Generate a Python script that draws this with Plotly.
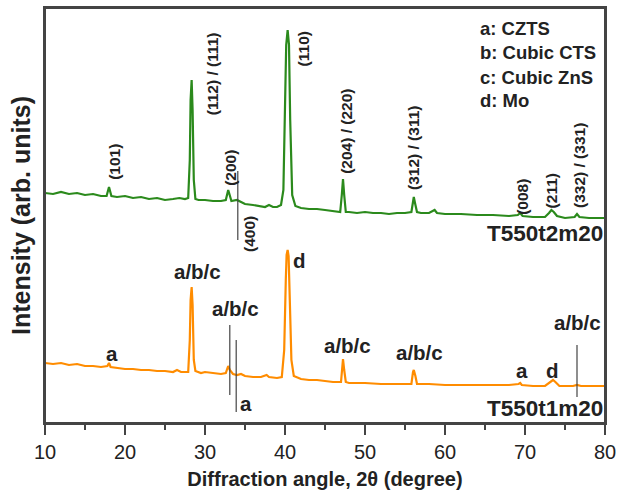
import plotly.graph_objects as go

# ---- data (2theta in degrees, intensity in arb. units) ----
green_x = [10, 11, 12, 13, 14, 15, 16, 17, 17.7, 18.0, 18.3, 19, 20, 21, 22, 23, 24, 25, 26, 26.8,
           27.5, 27.9, 28.1, 28.2, 28.33, 28.45, 28.6, 28.8, 29.2, 30, 31, 32, 32.6, 32.8, 32.9, 33.05,
           33.3, 34, 34.5, 35, 36, 37, 37.5, 38, 38.5, 39, 39.5, 39.8, 40.0, 40.15, 40.33, 40.5, 40.65,
           40.9, 41.3, 42, 43, 44, 45, 46, 46.9, 47.1, 47.25, 47.4, 47.6, 48, 49, 50, 51, 52, 53, 54, 55,
           55.8, 56.0, 56.1, 56.25, 56.5, 57, 58, 58.7, 59, 60, 62, 64, 66, 68, 69.1, 69.4, 69.7, 71,
           72.5, 73, 73.3, 73.6, 74, 75, 76.2, 76.5, 76.8, 78, 80]
green_y = [230, 229, 231, 229, 230, 228, 229, 227, 227, 236, 227, 226, 227, 225, 226, 224, 225, 223, 224, 225,
           224, 225, 263, 323, 343, 313, 243, 224, 223, 223, 222, 222, 223, 231, 233, 229,
           222, 223, 221, 219, 218, 217, 216, 218, 216, 216, 218, 233, 313, 378, 393, 378, 303,
           228, 217, 215, 214, 214, 213, 212, 211, 228, 244, 228, 211, 211, 210, 211, 210, 210, 209, 210, 210,
           211, 223, 226, 220, 211, 210, 210, 213, 210, 209, 209, 208, 208, 207, 208, 210, 207, 206,
           206, 210, 213, 211, 207, 205, 206, 209, 206, 205, 205]

orange_x = [10, 11, 12, 13, 14, 15, 16, 17, 17.8, 18.0, 18.2, 19, 20, 21, 22, 23, 24, 25, 26, 26.5,
            27, 27.9, 28.1, 28.2, 28.33, 28.45, 28.6, 28.8, 29.5, 30, 31, 32, 32.6, 32.8, 32.9, 33.1,
            33.5, 34, 34.5, 35, 36, 37, 37.7, 38, 39, 39.6, 39.9, 40.1, 40.2, 40.33, 40.45, 40.6, 40.8,
            41.1, 42, 43, 44, 45, 46, 47, 47.1, 47.25, 47.4, 47.6, 48, 49, 50, 52, 54, 55.8, 56.0, 56.1,
            56.3, 56.5, 57, 58, 60, 62, 64, 66, 68, 69.2, 69.4, 69.6, 71, 72.5, 73.2, 73.5, 73.8, 74.3,
            76, 76.5, 77, 78, 80]
orange_y = [60, 59, 60, 58, 59, 57, 57, 56, 57, 60, 56, 55, 54, 54, 53, 53, 52, 52, 51, 53,
            51, 51, 83, 123, 136, 118, 63, 52, 50, 51, 50, 49, 50, 55, 57, 53,
            49, 48, 49, 47, 46, 46, 48, 46, 45, 46, 73, 143, 168, 173, 167, 123, 63,
            47, 44, 43, 43, 42, 41, 41, 53, 64, 53, 41, 40, 40, 40, 39, 39, 39, 51, 53,
            47, 39, 39, 39, 38, 38, 38, 38, 38, 39, 40, 38, 37, 37, 41, 43, 41, 37,
            37, 38, 37, 37, 37]

# peak labels of upper pattern (rotated)
green_lbl = ["(101)", "(112) / (111)", "(200)", "(400)", "(110)", "(204) / (220)",
             "(312) / (311)", "(008)", "(211)", "(332) / (331)"]
green_lbl_x = [18.6, 30.9, 33.1, 35.5, 42.3, 47.6, 56.0, 69.6, 73.3, 76.75]
green_lbl_y = [261, 349, 255, 189, 374, 292, 275, 226, 232, 257]

# phase labels of lower pattern
orange_lbl = ["a", "a/b/c", "a/b/c", "a", "d", "a/b/c", "a/b/c", "a", "d", "a/b/c"]
orange_lbl_x = [18.4, 29.0, 33.75, 35.1, 41.75, 47.75, 56.75, 69.6, 73.4, 76.5]
orange_lbl_y = [70, 152, 115, 20, 163, 78, 71, 53, 53, 101]

# reference marker lines (x, y from, y to)
mark_x = [34.1, 33.1, 33.9, 76.5]
mark_y0 = [183, 28, 11, 26]
mark_y1 = [252, 98, 83, 78]

legend_lines = ["a: CZTS", "b: Cubic CTS", "c: Cubic ZnS", "d: Mo"]
legend_y = [395, 371, 346, 323]

sample_names = ["T550t2m20", "T550t1m20"]
sample_y = [190, 15]

xticks = [10, 20, 30, 40, 50, 60, 70, 80]

FONT = "Liberation Sans, Arial, sans-serif"
GREEN = "#2b8a1c"
ORANGE = "#ff8c00"
TXT = "#222222"
AX = "#444444"

fig = go.Figure()
fig.add_trace(go.Scatter(x=green_x, y=green_y, mode="lines",
                         line=dict(color=GREEN, width=2.2), showlegend=False))
fig.add_trace(go.Scatter(x=orange_x, y=orange_y, mode="lines",
                         line=dict(color=ORANGE, width=2.2), showlegend=False))

for mx, a, b in zip(mark_x, mark_y0, mark_y1):
    fig.add_shape(type="line", xref="x", yref="y", x0=mx, x1=mx, y0=a, y1=b,
                  line=dict(color="#444444", width=1.2))

# plot frame
fig.add_shape(type="rect", xref="paper", yref="paper", x0=0, x1=1, y0=0, y1=1,
              line=dict(color=AX, width=2), fillcolor="rgba(0,0,0,0)", layer="above")

anns = []
for t, x, y in zip(green_lbl, green_lbl_x, green_lbl_y):
    anns.append(dict(x=x, y=y, text="<b>%s</b>" % t, textangle=-90, showarrow=False,
                     font=dict(family=FONT, size=15.5, color=TXT)))
for t, x, y in zip(orange_lbl, orange_lbl_x, orange_lbl_y):
    anns.append(dict(x=x, y=y, text="<b>%s</b>" % t, showarrow=False,
                     font=dict(family=FONT, size=20.5, color=TXT)))
for t, y in zip(legend_lines, legend_y):
    anns.append(dict(x=64.1, y=y, text="<b>%s</b>" % t, showarrow=False, xanchor="left",
                     font=dict(family=FONT, size=18.5, color=TXT)))
for t, y in zip(sample_names, sample_y):
    anns.append(dict(x=80, y=y, text="<b>%s</b>" % t, showarrow=False, xanchor="right",
                     font=dict(family=FONT, size=22.5, color=TXT)))

fig.update_layout(
    width=618, height=500,
    margin=dict(l=45, r=13, t=8, b=77, autoexpand=False),
    plot_bgcolor="white", paper_bgcolor="white",
    annotations=anns,
    xaxis=dict(range=[10, 80], tickvals=xticks, ticks="outside", ticklen=10, tickwidth=1.5,
               tickcolor=AX, showline=True, linecolor=AX, linewidth=2, mirror=True,
               showgrid=False, zeroline=False, automargin=False,
               minor=dict(dtick=5, ticks="outside", ticklen=5, tickwidth=1.5, tickcolor=AX),
               tickfont=dict(family=FONT, size=20, color=TXT),
               title=dict(text="<b>Diffraction angle, 2θ (degree)</b>", standoff=10,
                          font=dict(family=FONT, size=20, color=TXT))),
    yaxis=dict(range=[0, 415], showticklabels=False, ticks="", showline=True, linecolor=AX,
               linewidth=2, mirror=True, showgrid=False, zeroline=False, automargin=False,
               title=dict(text="<b>Intensity (arb. units)</b>", standoff=5,
                          font=dict(family=FONT, size=25, color=TXT))),
)

# remove the default page margin / scrollbars so the 618x500 figure fills the window
fig.write_html("out.html", config={"displayModeBar": False},
               post_script="document.body.style.margin='0';document.body.style.overflow='hidden';")
